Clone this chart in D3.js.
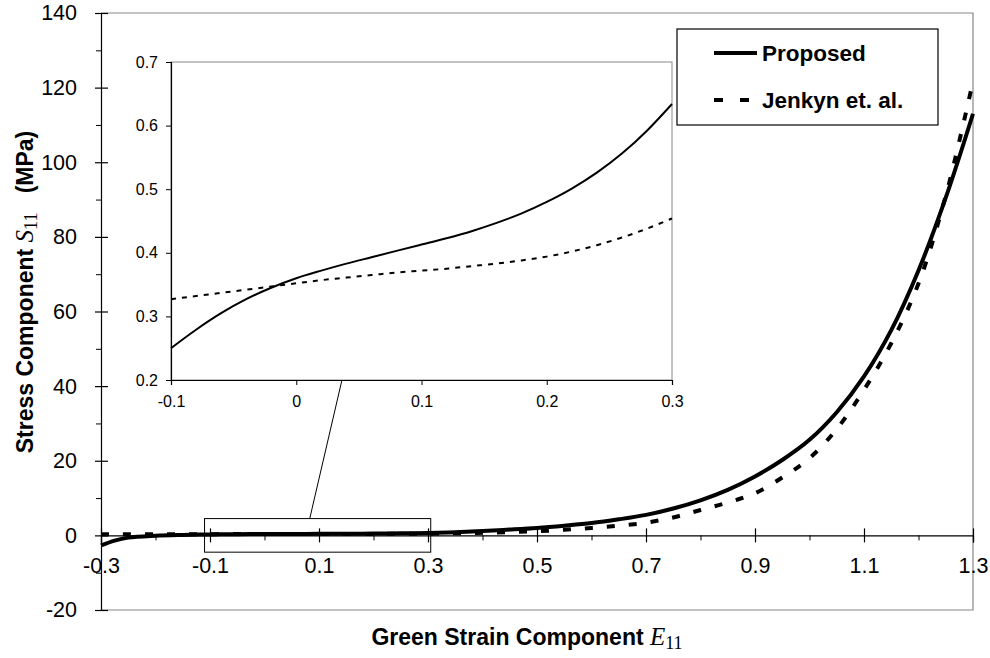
<!DOCTYPE html>
<html>
<head>
<meta charset="utf-8">
<script src="https://d3js.org/d3.v7.min.js"></script>
<style>
  body { margin: 0; background: #fff; }
  svg { display: block; }
</style>
</head>
<body>
<div id="chart"></div>
<script>
// main chart data (strain E11, stress S11 in MPa)
const mainStrain = [-0.3, -0.275, -0.25, -0.2, -0.15, -0.1, -0.05, 0,
    0.05, 0.1, 0.15, 0.2, 0.25, 0.3, 0.35, 0.4, 0.45, 0.5, 0.55, 0.6, 0.65,
    0.7, 0.75, 0.8, 0.85, 0.9, 0.95, 1.0, 1.05, 1.1, 1.15, 1.2, 1.25, 1.3];
const mainProposed = [-2.7, -1.4, -0.6, -0.1, 0.12, 0.25, 0.33, 0.36,
    0.39, 0.41, 0.44, 0.48, 0.54, 0.63, 0.85, 1.15, 1.55, 2.0, 2.6, 3.3, 4.3,
    5.5, 7.2, 9.4, 12.2, 15.8, 20.2, 25.6, 33.0, 42.6, 55.0, 71.0, 90.5, 113];
const mainJenkyn = [0.30, 0.30, 0.30, 0.31, 0.32, 0.33, 0.34, 0.35,
    0.36, 0.37, 0.38, 0.39, 0.42, 0.45, 0.55, 0.7, 0.9, 1.1, 1.5, 2.0, 2.6,
    3.4, 4.8, 6.8, 8.8, 11.3, 15.5, 20.7, 28.5, 39.0, 51.5, 67.5, 91.0, 121.7];

// inset data
const insetStrain = [-0.1, -0.08, -0.06, -0.04, -0.02, 0, 0.02, 0.04, 0.06, 0.08,
    0.1, 0.12, 0.14, 0.16, 0.18, 0.2, 0.22, 0.24, 0.26, 0.28, 0.3];
const insetProposed = [0.250, 0.279, 0.305, 0.327, 0.345, 0.360, 0.372, 0.383, 0.393, 0.403,
    0.413, 0.423, 0.434, 0.447, 0.462, 0.480, 0.501, 0.526, 0.556, 0.592, 0.634];
const insetJenkyn = [0.327, 0.332, 0.337, 0.342, 0.347, 0.352, 0.357, 0.361, 0.365, 0.369,
    0.372, 0.375, 0.379, 0.383, 0.388, 0.394, 0.402, 0.412, 0.424, 0.438, 0.454];

// ticks
const xMajorTicks = [-0.3, -0.1, 0.1, 0.3, 0.5, 0.7, 0.9, 1.1, 1.3];
const xMinorTicks = [-0.2, 0, 0.2, 0.4, 0.6, 0.8, 1.0, 1.2];
const yMajorTicks = [-20, 0, 20, 40, 60, 80, 100, 120, 140];
const yMinorTicks = [-10, 10, 30, 50, 70, 90, 110, 130];
const insetXTicks = [-0.1, 0, 0.1, 0.2, 0.3];
const insetYTicks = [0.2, 0.3, 0.4, 0.5, 0.6, 0.7];

// zoom window shown in the inset
const zoomStrain = [-0.11, 0.305];
const zoomStress = [-4.5, 4.5];

const seriesNames = ["Proposed", "Jenkyn et. al."];

const width = 990, height = 658;
const sansFont = "'Liberation Sans', Arial, sans-serif";
const serifFont = "'Liberation Serif', 'Times New Roman', serif";
const frameGray = "#888";

// plain hyphen instead of the unicode minus
const fmt1 = d => d3.format(".1f")(d).replace("\u2212", "-");
const fmt0 = d => d3.format("d")(d).replace("\u2212", "-");

const svg = d3.select("#chart").append("svg")
    .attr("width", width)
    .attr("height", height);

const x = d3.scaleLinear().domain([-0.3, 1.3]).range([101, 973]);
const y = d3.scaleLinear().domain([-20, 140]).range([610, 13]);

const xi = d3.scaleLinear().domain([-0.1, 0.3]).range([171, 672]);
const yi = d3.scaleLinear().domain([0.2, 0.7]).range([380, 62]);

// plot frame (top, right, bottom)
svg.append("path")
    .attr("d", "M" + x(-0.3) + "," + y(140) + "H" + x(1.3) + "V" + y(-20) + "H" + x(-0.3))
    .attr("fill", "none")
    .attr("stroke", frameGray)
    .attr("stroke-width", 1.2);

// y axis
const yAxis = svg.append("g")
    .attr("transform", "translate(" + x(-0.3) + ",0)")
    .call(d3.axisLeft(y).tickValues(yMajorTicks).tickSize(6).tickPadding(18).tickFormat(fmt0));
yAxis.select(".domain").attr("stroke", "#000").attr("stroke-width", 1.2);
yAxis.selectAll(".tick line").attr("x1", 7).attr("x2", -6).attr("stroke-width", 1.2);
yAxis.selectAll(".tick text")
    .attr("font-family", sansFont)
    .attr("font-size", 21.5)
    .attr("fill", "#000");

svg.append("g")
    .attr("transform", "translate(" + x(-0.3) + ",0)")
    .call(d3.axisLeft(y).tickValues(yMinorTicks).tickSize(5).tickFormat(""))
    .call(g => g.select(".domain").remove());

// x axis through zero
const xAxis = svg.append("g")
    .attr("transform", "translate(0," + y(0) + ")")
    .call(d3.axisBottom(x).tickValues(xMajorTicks).tickSize(7).tickPadding(15)
        .tickFormat(fmt1));
xAxis.select(".domain").attr("stroke-width", 1.2);
xAxis.selectAll(".tick line").attr("y1", -7).attr("stroke-width", 1.2);
xAxis.selectAll(".tick text")
    .attr("font-family", sansFont)
    .attr("font-size", 21.5)
    .attr("fill", "#000");

svg.append("g")
    .attr("transform", "translate(0," + y(0) + ")")
    .call(d3.axisBottom(x).tickValues(xMinorTicks).tickSize(5).tickFormat(""))
    .call(g => g.select(".domain").remove());

// curves
const mainLine = d3.line()
    .x(d => x(d[0]))
    .y(d => y(d[1]))
    .curve(d3.curveCatmullRom.alpha(0.5));

svg.append("path")
    .datum(d3.zip(mainStrain, mainJenkyn))
    .attr("d", mainLine)
    .attr("fill", "none")
    .attr("stroke", "#000")
    .attr("stroke-width", 4)
    .attr("stroke-dasharray", "8,14");

svg.append("path")
    .datum(d3.zip(mainStrain, mainProposed))
    .attr("d", mainLine)
    .attr("fill", "none")
    .attr("stroke", "#000")
    .attr("stroke-width", 4);

// zoom box and connector
svg.append("rect")
    .attr("x", x(zoomStrain[0]))
    .attr("y", y(zoomStress[1]))
    .attr("width", x(zoomStrain[1]) - x(zoomStrain[0]))
    .attr("height", y(zoomStress[0]) - y(zoomStress[1]))
    .attr("fill", "none")
    .attr("stroke", "#000")
    .attr("stroke-width", 1);

svg.append("line")
    .attr("x1", x(0.083)).attr("y1", y(zoomStress[1]))
    .attr("x2", xi(0.0365)).attr("y2", yi(0.2))
    .attr("stroke", "#000")
    .attr("stroke-width", 1);

// inset
const inset = svg.append("g").attr("class", "inset");

inset.append("rect")
    .attr("x", xi(-0.1)).attr("y", yi(0.7))
    .attr("width", xi(0.3) - xi(-0.1))
    .attr("height", yi(0.2) - yi(0.7))
    .attr("fill", "#fff")
    .attr("stroke", frameGray)
    .attr("stroke-width", 1);

const iyAxis = inset.append("g")
    .attr("transform", "translate(" + xi(-0.1) + ",0)")
    .call(d3.axisLeft(yi).tickValues(insetYTicks).tickSize(5).tickPadding(8)
        .tickFormat(fmt1));
iyAxis.select(".domain").attr("stroke-width", 1.2);
iyAxis.selectAll(".tick text")
    .attr("font-family", sansFont)
    .attr("font-size", 16)
    .attr("fill", "#000");

const ixAxis = inset.append("g")
    .attr("transform", "translate(0," + yi(0.2) + ")")
    .call(d3.axisBottom(xi).tickValues(insetXTicks).tickSize(5).tickPadding(11)
        .tickFormat(d => d === 0 ? "0" : fmt1(d)));
ixAxis.select(".domain").attr("stroke-width", 1.2);
ixAxis.selectAll(".tick text")
    .attr("font-family", sansFont)
    .attr("font-size", 16)
    .attr("fill", "#000");

const insetLine = d3.line()
    .x(d => xi(d[0]))
    .y(d => yi(d[1]))
    .curve(d3.curveMonotoneX);

inset.append("path")
    .datum(d3.zip(insetStrain, insetJenkyn))
    .attr("d", insetLine)
    .attr("fill", "none")
    .attr("stroke", "#000")
    .attr("stroke-width", 2)
    .attr("stroke-dasharray", "5,6");

inset.append("path")
    .datum(d3.zip(insetStrain, insetProposed))
    .attr("d", insetLine)
    .attr("fill", "none")
    .attr("stroke", "#000")
    .attr("stroke-width", 2);

// legend
const legend = svg.append("g").attr("transform", "translate(677,29)");
legend.append("rect")
    .attr("width", 261).attr("height", 96)
    .attr("fill", "#fff")
    .attr("stroke", "#000")
    .attr("stroke-width", 1.2);

seriesNames.forEach(function (name, i) {
    const ly = 24 + i * 47;
    legend.append("line")
        .attr("x1", 37).attr("x2", 80)
        .attr("y1", ly).attr("y2", ly)
        .attr("stroke", "#000")
        .attr("stroke-width", 4)
        .attr("stroke-dasharray", i === 0 ? null : "9,17");
    legend.append("text")
        .attr("x", 85).attr("y", ly + 8)
        .attr("font-family", sansFont)
        .attr("font-weight", "bold")
        .attr("font-size", 22.5)
        .text(name);
});

// axis titles
const xTitle = svg.append("text")
    .attr("x", 527).attr("y", 645)
    .attr("text-anchor", "middle")
    .attr("font-family", sansFont)
    .attr("font-weight", "bold")
    .attr("font-size", 23);
xTitle.append("tspan").text("Green Strain Component ");
xTitle.append("tspan")
    .attr("font-family", serifFont).attr("font-weight", "normal")
    .attr("font-style", "italic").attr("font-size", 25)
    .text("E");
xTitle.append("tspan")
    .attr("font-family", serifFont).attr("font-weight", "normal")
    .attr("font-size", 18).attr("dy", 4)
    .text("11");

const yTitle = svg.append("text")
    .attr("transform", "translate(33,292) rotate(-90)")
    .attr("text-anchor", "middle")
    .attr("font-family", sansFont)
    .attr("font-weight", "bold")
    .attr("font-size", 23);
yTitle.append("tspan").text("Stress Component ");
yTitle.append("tspan")
    .attr("font-family", serifFont).attr("font-weight", "normal")
    .attr("font-style", "italic").attr("font-size", 25)
    .text("S");
yTitle.append("tspan")
    .attr("font-family", serifFont).attr("font-weight", "normal")
    .attr("font-size", 18).attr("dy", 4)
    .text("11");
yTitle.append("tspan").attr("dy", -4).text("\u00a0\u00a0 (MPa)");
</script>
</body>
</html>
